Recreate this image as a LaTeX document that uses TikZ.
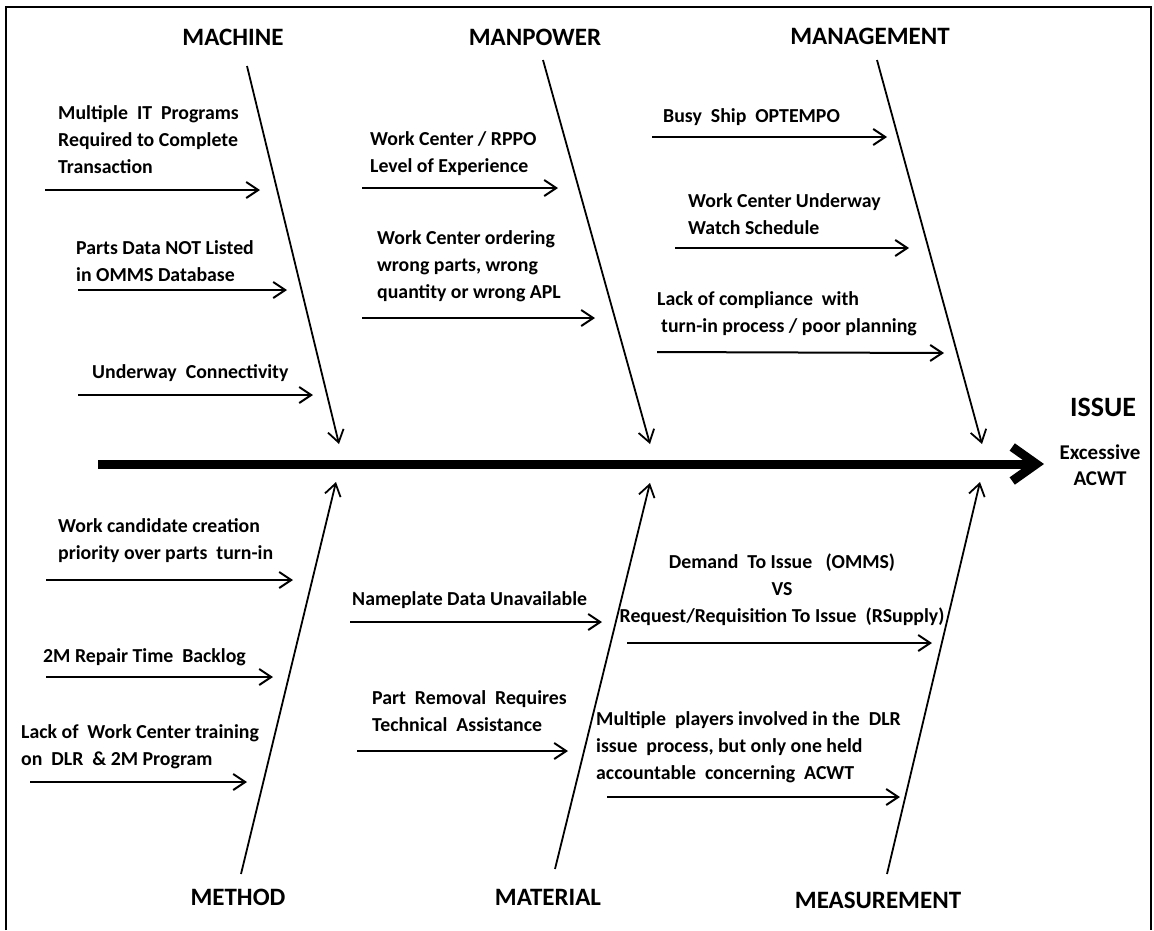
\documentclass[tikz,border=0pt]{standalone}
\usepackage{fontspec}
\setmainfont{Carlito}
\usetikzlibrary{arrows.meta}
\begin{document}
\begin{tikzpicture}[x=1pt,y=-1pt,
  cause/.style={font=\fontsize{19.8}{27}\selectfont\bfseries, align=left, inner sep=0pt, anchor=west},
  hdr/.style={font=\fontsize{25}{30}\selectfont\bfseries, inner sep=0pt},
  bone/.style={line width=1.8pt, -{Straight Barb[length=12pt,width=16pt]}},
  carrow/.style={line width=2pt, -{Straight Barb[length=12pt,width=16pt]}},
  spine/.style={line width=9pt, -{Straight Barb[length=24pt,width=34pt]}},
  frame/.style={line width=2pt}
]
\useasboundingbox (0,0) rectangle (1154,930);
% frame
\coordinate (f1) at (6,930); \coordinate (f2) at (6,7);
\coordinate (f3) at (1151,7); \coordinate (f4) at (1151,930);
\draw[frame] (f1) -- (f2) -- (f3) -- (f4);

% spine
\coordinate (sp0) at (98,464); \coordinate (sp1) at (1044,464);
\draw[spine] (sp0) -- (sp1);

% headers
\node[hdr] (hmach) at (233,37) {MACHINE};
\node[hdr] (hmanp) at (535,37) {MANPOWER};
\node[hdr] (hmgmt) at (870,36) {MANAGEMENT};
\node[hdr] (hmeth) at (238,897) {METHOD};
\node[hdr] (hmatl) at (548,897) {MATERIAL};
\node[hdr] (hmeas) at (878,900) {MEASUREMENT};
\node[font=\fontsize{28}{32}\selectfont\bfseries, inner sep=0pt] (issue) at (1103,407) {ISSUE};
\node[font=\fontsize{21}{26}\selectfont\bfseries, align=center, inner sep=0pt] (effect) at (1100,465) {Excessive\\ACWT};

% bones
\coordinate (b1s) at (247,66);  \coordinate (b1e) at (339,444);
\coordinate (b2s) at (543,60);  \coordinate (b2e) at (650,444);
\coordinate (b3s) at (877,60);  \coordinate (b3e) at (982,444);
\coordinate (b4s) at (241,874); \coordinate (b4e) at (336,482);
\coordinate (b5s) at (555,869); \coordinate (b5e) at (650,483);
\coordinate (b6s) at (887,874); \coordinate (b6e) at (980,482);
\draw[bone] (b1s) -- (b1e);
\draw[bone] (b2s) -- (b2e);
\draw[bone] (b3s) -- (b3e);
\draw[bone] (b4s) -- (b4e);
\draw[bone] (b5s) -- (b5e);
\draw[bone] (b6s) -- (b6e);

% causes - machine
\node[cause] (c1) at (58,140) {Multiple~ IT~ Programs\\Required to Complete\\Transaction};
\coordinate (a1s) at (45,190); \coordinate (a1e) at (260,190);
\draw[carrow] (a1s) -- (a1e);
\node[cause] (c2) at (76,261) {Parts Data NOT Listed\\in OMMS Database};
\coordinate (a2s) at (78,290); \coordinate (a2e) at (287,290);
\draw[carrow] (a2s) -- (a2e);
\node[cause] (c3) at (92,373) {Underway~ Connectivity};
\coordinate (a3s) at (78,395); \coordinate (a3e) at (313,395);
\draw[carrow] (a3s) -- (a3e);

% causes - manpower
\node[cause] (c4) at (370,154) {Work Center / RPPO\\Level of Experience};
\coordinate (a4s) at (362,188); \coordinate (a4e) at (558,188);
\draw[carrow] (a4s) -- (a4e);
\node[cause] (c5) at (377,266) {Work Center ordering\\wrong parts, wrong\\quantity or wrong APL};
\coordinate (a5s) at (362,318); \coordinate (a5e) at (595,318);
\draw[carrow] (a5s) -- (a5e);

% causes - management
\node[cause] (c6) at (663,117) {Busy~ Ship~ OPTEMPO};
\coordinate (a6s) at (652,137); \coordinate (a6e) at (887,137);
\draw[carrow] (a6s) -- (a6e);
\node[cause] (c7) at (688,214) {Work Center Underway\\Watch Schedule};
\coordinate (a7s) at (675,248); \coordinate (a7e) at (909,248);
\draw[carrow] (a7s) -- (a7e);
\node[cause] (c8) at (657,314) {Lack of compliance~ with\\\hspace*{4pt}turn-in process / poor planning};
\coordinate (a8s) at (657,352); \coordinate (a8e) at (944,353);
\draw[carrow] (a8s) -- (a8e);

% causes - method
\node[cause] (c9) at (58,541) {Work candidate creation\\priority over parts~ turn-in};
\coordinate (a9s) at (46,580); \coordinate (a9e) at (293,580);
\draw[carrow] (a9s) -- (a9e);
\node[cause] (c10) at (43,657) {2M Repair Time~ Backlog};
\coordinate (a10s) at (46,677); \coordinate (a10e) at (273,677);
\draw[carrow] (a10s) -- (a10e);
\node[cause] (c11) at (21,747) {Lack of~ Work Center training\\on~ DLR~ \&~2M Program};
\coordinate (a11s) at (30,782); \coordinate (a11e) at (247,782);
\draw[carrow] (a11s) -- (a11e);

% causes - material
\node[cause] (c12) at (352,600) {Nameplate Data Unavailable};
\coordinate (a12s) at (350,622); \coordinate (a12e) at (602,622);
\draw[carrow] (a12s) -- (a12e);
\node[cause] (c13) at (372,711) {Part~ Removal~ Requires\\Technical~ Assistance};
\coordinate (a13s) at (357,751); \coordinate (a13e) at (568,751);
\draw[carrow] (a13s) -- (a13e);

% causes - measurement
\node[cause, anchor=center, align=center] (c14) at (782,590) {Demand~ To Issue~~ (OMMS)\\VS\hspace*{46pt}\\Request/Requisition To Issue~ (RSupply)};
\coordinate (a14s) at (627,643); \coordinate (a14e) at (932,643);
\draw[carrow] (a14s) -- (a14e);
\node[cause] (c15) at (596,747) {Multiple~ players involved in the~ DLR\\issue~ process, but only one held\\accountable~ concerning~ ACWT};
\coordinate (a15s) at (607,797); \coordinate (a15e) at (900,797);
\draw[carrow] (a15s) -- (a15e);
\end{tikzpicture}
\end{document}
